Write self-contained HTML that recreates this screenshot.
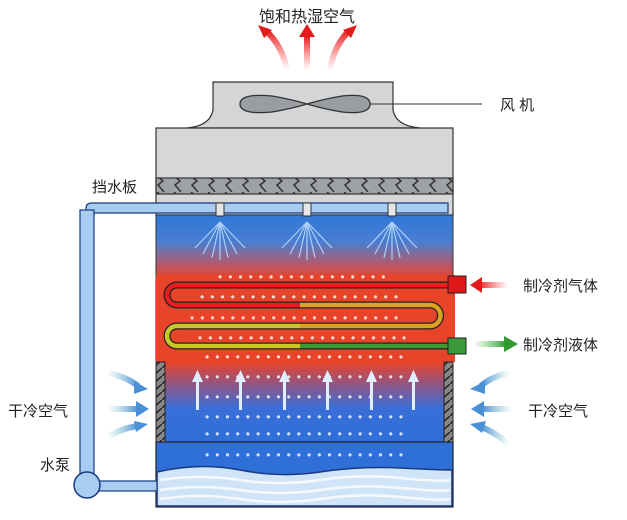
<!DOCTYPE html>
<html><head><meta charset="utf-8"><style>
body{margin:0;background:#fff}
svg text{font-family:"Liberation Sans","Noto Sans CJK SC",sans-serif;fill:#222}
svg text.d{fill:#fff}
</style></head><body>
<svg width="627" height="515" viewBox="0 0 627 515" xmlns="http://www.w3.org/2000/svg">
<defs>
<linearGradient id="mid" x1="0" x2="0" gradientUnits="userSpaceOnUse" y1="215" y2="442">
<stop offset="0" stop-color="#2f78d8"/>
<stop offset="0.12" stop-color="#4a7ed0"/>
<stop offset="0.22" stop-color="#b85868"/>
<stop offset="0.28" stop-color="#e8442a"/>
<stop offset="0.65" stop-color="#e8442a"/>
<stop offset="0.72" stop-color="#a8506e"/>
<stop offset="0.85" stop-color="#3a6ed8"/>
<stop offset="1" stop-color="#2f6fd8"/>
</linearGradient>
<linearGradient id="ra" x1="0" y1="1" x2="0" y2="0"><stop offset="0" stop-color="#f44" stop-opacity="0"/><stop offset="1" stop-color="#e41b1b"/></linearGradient>
<linearGradient id="rr" x1="1" y1="0" x2="0" y2="0"><stop offset="0" stop-color="#f44" stop-opacity="0"/><stop offset="1" stop-color="#e41b1b"/></linearGradient>
<linearGradient id="gr" x1="0" y1="0" x2="1" y2="0"><stop offset="0" stop-color="#5b5" stop-opacity="0"/><stop offset="1" stop-color="#2f9a2f"/></linearGradient>
<linearGradient id="bl" x1="0" y1="0" x2="1" y2="0"><stop offset="0" stop-color="#7bc" stop-opacity="0"/><stop offset="1" stop-color="#4a90d8"/></linearGradient>
<linearGradient id="br" x1="1" y1="0" x2="0" y2="0"><stop offset="0" stop-color="#7bc" stop-opacity="0"/><stop offset="1" stop-color="#4a90d8"/></linearGradient>
<pattern id="lv" width="17" height="16" patternUnits="userSpaceOnUse"><path d="M4 0 L10 5 L5 9 L11 16" stroke="#333" stroke-width="1.5" fill="none"/></pattern>
<pattern id="hatch" width="9" height="8" patternUnits="userSpaceOnUse"><path d="M0 8 L9 0" stroke="#222" stroke-width="1.5"/></pattern>
</defs>
<text x="307" y="22" font-size="16" text-anchor="middle">饱和热湿空气</text>
<path d="M287 70 Q282 45 265 30" stroke="url(#ra)" stroke-width="6" fill="none"/>
<polygon points="258,25 272,30 264,38" fill="#e41b1b"/>
<rect x="304" y="36" width="6" height="34" fill="url(#ra)"/>
<polygon points="299,37 307,24 315,37" fill="#e41b1b"/>
<path d="M330 70 Q334 45 350 30" stroke="url(#ra)" stroke-width="6" fill="none"/>
<polygon points="357,25 343,30 351,38" fill="#e41b1b"/>
<path d="M187 128 Q210 126 213 110 L213 82 L393 82 L393 110 Q396 126 420 128 Z" fill="#d4d5d7" stroke="#333" stroke-width="1.2"/>
<path d="M240 104 Q240 93 272 96 Q290 99 307 104 Q324 99 342 96 Q370 93 370 104 Q370 115 342 112 Q324 109 307 104 Q290 109 272 112 Q240 115 240 104Z" fill="#9a9ea2" stroke="#333" stroke-width="1.3"/>
<line x1="370" y1="104" x2="482" y2="104" stroke="#333" stroke-width="1"/>
<text x="500" y="110" font-size="15">风 机</text>
<rect x="156" y="128" width="297" height="87" fill="#d6d7d9" stroke="#333" stroke-width="1.2"/>
<rect x="156" y="178" width="297" height="16" fill="#9ea2a6" stroke="#333" stroke-width="1.2"/>
<rect x="156" y="178" width="297" height="16" fill="url(#lv)"/>
<text x="92" y="192" font-size="15">挡水板</text>
<rect x="156" y="215" width="297" height="227" fill="url(#mid)" stroke="#333" stroke-width="1"/>
<rect x="156" y="275" width="299" height="87" fill="#e8442a"/>
<rect x="156" y="442" width="297" height="65" fill="#2f6fd8" stroke="#222" stroke-width="1.2"/>
<path d="M157 472 Q200 462 240 470 T320 472 T400 468 T452 470 L452 506 L157 506Z" fill="#cfe4f6" stroke="#1a3a80" stroke-width="1.5"/>
<g stroke="#fff" stroke-width="2.5" fill="none" opacity="0.8">
<path d="M160 480 Q200 474 240 480 T320 480 T400 478 T450 480"/>
<path d="M160 490 Q200 484 240 490 T320 490 T400 488 T450 490"/>
<path d="M160 499 Q200 493 240 499 T320 499 T400 497 T450 499"/>
</g>
<rect x="156" y="362" width="9" height="80" fill="#888" stroke="#222"/>
<rect x="156" y="362" width="9" height="80" fill="url(#hatch)"/>
<rect x="444" y="362" width="9" height="80" fill="#888" stroke="#222"/>
<rect x="444" y="362" width="9" height="80" fill="url(#hatch)"/>
<g stroke="#bfe0ff" stroke-width="1.2" opacity="0.85">
<g id="sp"><line x1="220" y1="222" x2="195" y2="248"/><line x1="220" y1="222" x2="203" y2="254"/><line x1="220" y1="222" x2="212" y2="258"/><line x1="220" y1="222" x2="220" y2="260"/><line x1="220" y1="222" x2="228" y2="258"/><line x1="220" y1="222" x2="237" y2="254"/><line x1="220" y1="222" x2="245" y2="248"/></g>
<use href="#sp" x="87"/><use href="#sp" x="172"/>
</g>
<path d="M86 216 L86 208 Q86 203 92 203 L448 203 L448 213 L94 213 Q94 213 94 216 Z" fill="#a8cdf0" stroke="#1a3a80" stroke-width="1.2"/>
<rect x="80" y="210" width="14" height="270" fill="#a8cdf0" stroke="#1a3a80" stroke-width="1.2"/>
<rect x="93" y="481" width="64" height="10" fill="#a8cdf0" stroke="#1a3a80" stroke-width="1.2"/>
<circle cx="87" cy="485" r="13" fill="#a8cdf0" stroke="#1a3a80" stroke-width="1.5"/>
<rect x="216" y="203" width="8" height="13" fill="#e6e6e6" stroke="#333"/>
<rect x="303" y="203" width="8" height="13" fill="#e6e6e6" stroke="#333"/>
<rect x="388" y="203" width="8" height="13" fill="#e6e6e6" stroke="#333"/>
<g opacity="0.8" font-size="12">
<text class="d" x="218" y="281" letter-spacing="6">•••••••••••••••••</text>
<text class="d" x="200" y="301" letter-spacing="6">••••••••••••••••••••</text>
<text class="d" x="190" y="322" letter-spacing="6">•••••••••••••••••••••</text>
<text class="d" x="198" y="342" letter-spacing="6">•••••••••••••••••••••</text>
<text class="d" x="205" y="361" letter-spacing="6">••••••••••••••••••••</text>
<text class="d" x="205" y="381" letter-spacing="6">••••••••••••••••••••</text>
<text class="d" x="205" y="401" letter-spacing="6">••••••••••••••••••••</text>
<text class="d" x="205" y="421" letter-spacing="6">••••••••••••••••••••</text>
<text class="d" x="205" y="438" letter-spacing="6">••••••••••••••••••••</text>
<text class="d" x="205" y="459" letter-spacing="6">••••••••••••••••••••</text>
</g>
<g fill="none" stroke="#222" stroke-width="7" stroke-linejoin="round">
<path d="M450 285 L177 285 A10 10 0 0 0 177 305 L430 305 A10.5 10.5 0 0 1 430 326 L177 326 A10 10 0 0 0 177 346 L450 346"/>
</g>
<path d="M450 285 L177 285 A10 10 0 0 0 177 305 L300 305" fill="none" stroke="#e81e1e" stroke-width="4.5"/>
<path d="M300 305 L430 305 A10.5 10.5 0 0 1 430 326 L300 326" fill="none" stroke="#e0a020" stroke-width="4.5"/>
<path d="M300 326 L177 326 A10 10 0 0 0 177 346 L300 346" fill="none" stroke="#c8c828" stroke-width="4.5"/>
<path d="M300 346 L450 346" fill="none" stroke="#3a9a30" stroke-width="4.5"/>
<rect x="448" y="276" width="18" height="17" fill="#e01818" stroke="#222"/>
<rect x="448" y="338" width="18" height="16" fill="#3a9a3a" stroke="#222"/>
<g fill="#dfefff">
<g id="ua"><rect x="196" y="380" width="3" height="30"/><polygon points="192,382 197.5,370 203,382"/></g>
<use href="#ua" x="43"/><use href="#ua" x="87"/><use href="#ua" x="130"/><use href="#ua" x="174"/><use href="#ua" x="216"/>
</g>
<rect x="478" y="282" width="30" height="6" fill="url(#rr)"/>
<polygon points="482,277 470,285 482,293" fill="#e41b1b"/>
<text x="523" y="291" font-size="15">制冷剂气体</text>
<rect x="474" y="341" width="32" height="6" fill="url(#gr)"/>
<polygon points="504,336 518,344 504,352" fill="#2f9a2f"/>
<text x="523" y="350" font-size="15">制冷剂液体</text>
<text x="8" y="416" font-size="15">干冷空气</text>
<text x="528" y="416" font-size="15">干冷空气</text>
<text x="40" y="470" font-size="15">水泵</text>
<g>
<path d="M107 373 Q125 376 138 386" stroke="url(#bl)" stroke-width="6" fill="none"/><polygon points="134,381 148,389 134,394" fill="#4a90d8"/>
<rect x="108" y="406" width="30" height="6" fill="url(#bl)"/><polygon points="136,401 149,409 136,417" fill="#4a90d8"/>
<path d="M107 437 Q122 428 138 426" stroke="url(#bl)" stroke-width="6" fill="none"/><polygon points="134,421 148,424 136,432" fill="#4a90d8"/>
<path d="M510 373 Q492 376 481 386" stroke="url(#br)" stroke-width="6" fill="none"/><polygon points="485,381 470,389 485,394" fill="#4a90d8"/>
<rect x="482" y="406" width="30" height="6" fill="url(#br)"/><polygon points="484,401 471,409 484,417" fill="#4a90d8"/>
<path d="M510 445 Q495 432 481 427" stroke="url(#br)" stroke-width="6" fill="none"/><polygon points="486,421 470,424 482,433" fill="#4a90d8"/>
</g>
</svg>
</body></html>
